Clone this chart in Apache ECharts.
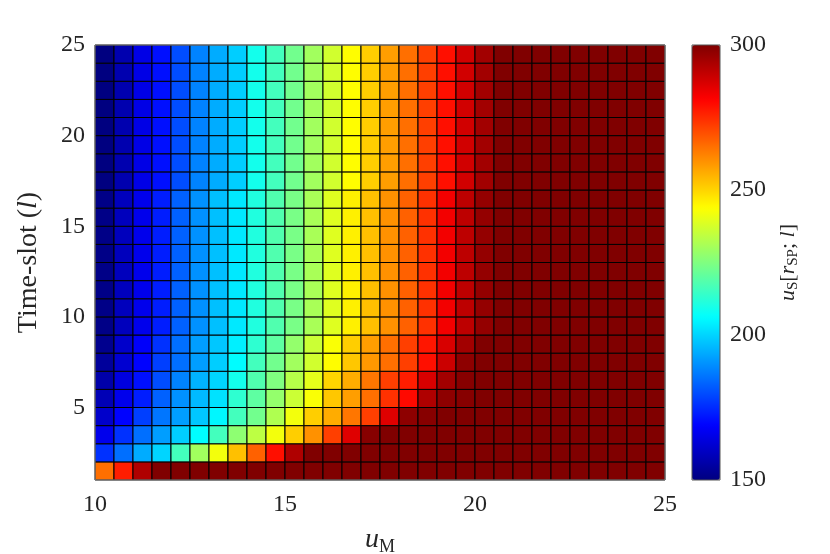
<!DOCTYPE html>
<html>
<head>
<meta charset="utf-8">
<script src="https://cdn.jsdelivr.net/npm/echarts@6/dist/echarts.min.js"></script>
<style>
html, body { margin: 0; padding: 0; background: #fff; }
#chart { width: 830px; height: 554px; }
</style>
</head>
<body>
<div id="chart"></div>
<script>
// cell edges (pcolor style grid): u_M along x, time-slot l along y
const uM = [10, 10.5, 11, 11.5, 12, 12.5, 13, 13.5, 14, 14.5, 15, 15.5, 16, 16.5, 17, 17.5,
  18, 18.5, 19, 19.5, 20, 20.5, 21, 21.5, 22, 22.5, 23, 23.5, 24, 24.5, 25];
const timeSlots = [1, 2, 3, 4, 5, 6, 7, 8, 9, 10, 11, 12, 13, 14, 15, 16, 17, 18, 19, 20, 21, 22, 23, 24, 25];
const yTicks = [5, 10, 15, 20, 25];

// u_S[r_SP; l] per time-slot row, one value per u_M column
const slot1 = [265, 277, 293, 300, 300, 300, 300, 300, 300, 300,
  300, 300, 300, 300, 300, 300, 300, 300, 300, 300,
  300, 300, 300, 300, 300, 300, 300, 300, 300, 300];
const slot2 = [176, 185, 194, 200, 216, 230, 242, 253, 267, 279,
  293, 300, 300, 300, 300, 300, 300, 300, 300, 300,
  300, 300, 300, 300, 300, 300, 300, 300, 300, 300];
const slot3 = [166, 176, 185, 192, 199, 206, 216, 227, 234, 242,
  251, 260, 272, 286, 299, 300, 300, 300, 300, 300,
  300, 300, 300, 300, 300, 300, 300, 300, 300, 300];
const slot4 = [161, 169, 178, 186, 192, 198, 205, 216, 223, 232,
  242, 251, 256, 264, 272, 286, 298, 299, 300, 300,
  300, 300, 300, 300, 300, 300, 300, 300, 300, 300];
const slot5 = [158, 166, 173, 183, 190, 196, 202, 213, 220, 228,
  236, 243, 252, 258, 265, 274, 280, 293, 298, 299,
  300, 300, 300, 300, 300, 300, 300, 300, 300, 300];
const slot6 = [156, 164, 171, 180, 188, 195, 200, 209, 218, 225,
  233, 240, 250, 256, 264, 272, 277, 287, 295, 299,
  300, 300, 300, 300, 300, 300, 300, 300, 300, 300];
const slot7 = [154, 162, 169, 178, 185, 192, 199, 206, 216, 223,
  230, 237, 244, 252, 259, 265, 272, 279, 289, 298,
  300, 300, 300, 300, 300, 300, 300, 300, 300, 300];
const slot8 = [152, 161, 168, 176, 185, 192, 198, 204, 213, 220,
  228, 236, 243, 251, 258, 265, 272, 278, 287, 295,
  300, 300, 300, 300, 300, 300, 300, 300, 300, 300];
const slotMid = [151, 159, 166, 173, 183, 190, 197, 203, 211, 218,
  224, 231, 239, 246, 253, 260, 267, 274, 283, 291,
  297, 300, 300, 300, 300, 300, 300, 300, 300, 300];
const slotTop = [150, 157, 165, 171, 180, 188, 194, 199, 209, 216,
  223, 230, 237, 244, 251, 258, 265, 272, 279, 288,
  295, 300, 300, 300, 300, 300, 300, 300, 300, 300];

const usRows = [slot1, slot2, slot3, slot4, slot5, slot6, slot7, slot8,
  slotMid, slotMid, slotMid, slotMid, slotMid, slotMid, slotMid, slotMid,
  slotTop, slotTop, slotTop, slotTop, slotTop, slotTop, slotTop, slotTop];

const jet = ['#000080', '#0000ff', '#0080ff', '#00ffff', '#80ff80', '#ffff00', '#ff8000', '#ff0000', '#800000'];

const cells = [];
usRows.forEach((row, r) => {
  row.forEach((v, c) => {
    cells.push([uM[c], timeSlots[r], uM[c + 1], timeSlots[r + 1], v]);
  });
});

const font = 'Liberation Serif';
const txt = '#262626';

const chart = echarts.init(document.getElementById('chart'));
chart.setOption({
  animation: false,
  grid: [
    { left: 95, top: 45, width: 570, height: 435, outerBoundsMode: 'none', show: true, borderColor: '#8a8a8a', borderWidth: 1, z: 5 },
    { left: 692, top: 45, width: 28, height: 435, outerBoundsMode: 'none', show: true, borderColor: '#555', borderWidth: 1, z: 10 }
  ],
  xAxis: [
    {
      type: 'value', min: 10, max: 25, interval: 5,
      axisLine: { show: false }, axisTick: { show: false }, splitLine: { show: false },
      axisLabel: { fontFamily: font, fontSize: 24, color: txt, margin: 13 },
      name: '{i|u}{s|M}', nameLocation: 'middle', nameGap: 44,
      nameTextStyle: {
        rich: {
          i: { fontFamily: font, fontStyle: 'italic', fontSize: 28, color: txt },
          s: { fontFamily: font, fontSize: 18, color: txt, padding: [14, 0, 0, 0] }
        }
      }
    },
    { type: 'value', gridIndex: 1, show: false, min: 0, max: 1 }
  ],
  yAxis: [
    {
      type: 'value', min: 1, max: 25,
      axisLine: { show: false }, axisTick: { show: false }, splitLine: { show: false },
      axisLabel: { fontFamily: font, fontSize: 24, color: txt, margin: 10, customValues: yTicks },
      name: '{r|Time-slot (}{i|l}{r|)}', nameLocation: 'middle', nameGap: 52, nameRotate: 90,
      nameTextStyle: {
        rich: {
          r: { fontFamily: font, fontSize: 28, color: txt },
          i: { fontFamily: font, fontStyle: 'italic', fontSize: 28, color: txt }
        }
      }
    },
    {
      type: 'value', gridIndex: 1, position: 'right', min: 150, max: 300, interval: 50,
      axisLine: { show: false },
      axisTick: { show: false },
      splitLine: { show: false },
      axisLabel: { fontFamily: font, fontSize: 24, color: txt, margin: 10 },
      name: '{i|u}{s|S}{r|[}{i|r}{s|SP}{r|; }{i|l}{r|]}', nameLocation: 'middle', nameGap: 56, nameRotate: 90,
      nameTextStyle: {
        rich: {
          r: { fontFamily: font, fontSize: 22, color: txt },
          i: { fontFamily: font, fontStyle: 'italic', fontSize: 22, color: txt },
          s: { fontFamily: font, fontSize: 15, color: txt, padding: [10, 0, 0, 0] }
        }
      }
    }
  ],
  visualMap: {
    type: 'continuous',
    seriesIndex: 0,
    dimension: 4,
    min: 150,
    max: 300,
    calculable: false,
    hoverLink: false,
    left: 692,
    top: 45,
    padding: 0,
    itemWidth: 28,
    itemHeight: 435,
    text: null,
    inRange: { color: jet }
  },
  series: [{
    type: 'custom',
    xAxisIndex: 0,
    yAxisIndex: 0,
    encode: { x: [0, 2], y: [1, 3] },
    data: cells,
    renderItem: function (params, api) {
      const p0 = api.coord([api.value(0), api.value(1)]);
      const p1 = api.coord([api.value(2), api.value(3)]);
      return {
        type: 'rect',
        shape: { x: p0[0], y: p1[1], width: p1[0] - p0[0], height: p0[1] - p1[1] },
        style: { fill: api.visual('color'), stroke: '#000', lineWidth: 1 }
      };
    }
  }]
});
</script>
</body>
</html>
